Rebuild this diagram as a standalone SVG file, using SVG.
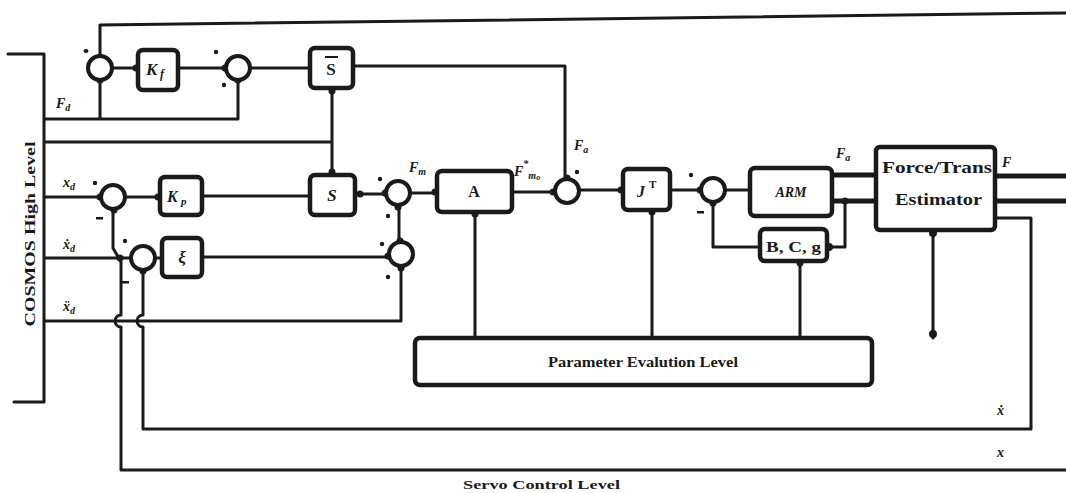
<svg xmlns="http://www.w3.org/2000/svg" width="1066" height="493" viewBox="0 0 1066 493">
<style>
.ln{fill:none;stroke:#1a1a1a;stroke-width:3;stroke-linejoin:round;stroke-linecap:round}
.thk{fill:none;stroke:#1a1a1a;stroke-width:5}
.box{fill:#fff;stroke:#1a1a1a;stroke-width:4.5}
.sum{fill:#fff;stroke:#1a1a1a;stroke-width:4}
.b{fill:#1a1a1a}
.lab{font-family:"Liberation Serif",serif;font-weight:bold;font-style:italic;fill:#1a1a1a}
.txt{font-family:"Liberation Serif",serif;font-weight:bold;fill:#1a1a1a}
</style>
<rect width="1066" height="493" fill="#fff"/>
<g id="connectors">
<path class="ln" d="M8,54 H44 V402 H14"/>
<path class="ln" d="M100,56 V25 L1066,13"/>
<path class="ln" d="M45,119 H238 V80 M100,119 V80"/>
<path class="ln" d="M112,68 H138 M178,68 H226 M250,68 H310"/>
<path class="ln" d="M353,66 H565 V179"/>
<path class="ln" d="M332,88 V175 M45,142 H332"/>
<path class="ln" d="M45,197 H101 M125,197 H160 M202,196 H310"/>
<path class="ln" d="M355,194 H386 M410,193 H437 M512,192 H555 M579,190 H623 M670,190 H701 M725,190 H750"/>
<path class="ln" d="M713,202 V247 H760 M827,247 H845 V201"/>
<path class="thk" d="M832,175 H876 M832,201 H876 M995,176 H1066 M995,201 H1066"/>
<path class="ln" d="M995,218 H1031 V429 H143 V327 A6,6 0 0 1 143,315 V270"/>
<path class="ln" d="M113,209 V248 L121,262 V315 A6,6 0 0 0 121,327 V470 H1066"/>
<path class="ln" d="M45,258 H131 M155,258 H162 M202,257 H389"/>
<path class="ln" d="M45,321 H401 V266 M399,205 V242"/>
<path class="ln" d="M475,212 V338 M652,210 V338 M800,261 V338 M933,230 V338"/>
</g>
<g id="blobs">
<circle class="b" cx="100" cy="57" r="3.5"/><circle class="b" cx="100" cy="80" r="3.5"/>
<circle class="b" cx="136" cy="68" r="3.5"/><circle class="b" cx="225" cy="68" r="3.5"/>
<circle class="b" cx="238" cy="80" r="3.5"/><circle class="b" cx="332" cy="91" r="3.5"/>
<circle class="b" cx="332" cy="172" r="3.5"/><circle class="b" cx="100" cy="197" r="3.5"/>
<circle class="b" cx="158" cy="197" r="3.5"/><circle class="b" cx="114" cy="210" r="3.5"/>
<circle class="b" cx="120" cy="258" r="3.5"/><circle class="b" cx="143" cy="271" r="3.5"/>
<circle class="b" cx="360" cy="194" r="3.5"/><circle class="b" cx="385" cy="193" r="3.5"/>
<circle class="b" cx="398" cy="207" r="3.5"/><circle class="b" cx="400" cy="241" r="3.5"/>
<circle class="b" cx="401" cy="268" r="3.5"/><circle class="b" cx="388" cy="256" r="3.5"/>
<circle class="b" cx="435" cy="192" r="3.5"/><circle class="b" cx="475" cy="214" r="3.5"/>
<circle class="b" cx="567" cy="178" r="3.5"/><circle class="b" cx="553" cy="192" r="3.5"/>
<circle class="b" cx="621" cy="190" r="3.5"/><circle class="b" cx="652" cy="212" r="3.5"/>
<circle class="b" cx="700" cy="190" r="3.5"/><circle class="b" cx="713" cy="203" r="3.5"/>
<circle class="b" cx="829" cy="247" r="4"/><circle class="b" cx="800" cy="263" r="3.5"/>
<circle class="b" cx="845" cy="201" r="3.5"/><circle class="b" cx="933" cy="233" r="4"/>
<circle class="b" cx="933" cy="334" r="4"/>
</g>
<g id="signs">
<ellipse class="b" cx="86" cy="51" rx="2.5" ry="2"/>
<circle class="b" cx="216" cy="52" r="2.2"/><circle class="b" cx="224" cy="85" r="2.2"/>
<circle class="b" cx="95" cy="183" r="2.2"/><rect class="b" x="96" y="217" width="7" height="2.5"/>
<circle class="b" cx="125" cy="241" r="2.2"/><rect class="b" x="122" y="281" width="7" height="2.5"/>
<circle class="b" cx="380" cy="179" r="2.2"/><circle class="b" cx="388" cy="216" r="2.2"/>
<circle class="b" cx="382" cy="244" r="2.2"/><circle class="b" cx="388" cy="277" r="2.2"/>
<circle class="b" cx="577" cy="172" r="2.2"/>
<circle class="b" cx="691" cy="175" r="2.2"/><rect class="b" x="697" y="211" width="7" height="2.5"/>
</g>
<g id="sum1"><circle class="sum" cx="100" cy="68" r="12"/></g>
<g id="kf"><rect class="box" x="138" y="50" width="40" height="40" rx="5"/><text class="lab" x="146" y="75" font-size="17">K</text><text class="lab" x="160" y="78" font-size="12">f</text></g>
<g id="sum2"><circle class="sum" cx="238" cy="68" r="12"/></g>
<g id="sbar"><rect class="box" x="310" y="48" width="43" height="40" rx="5"/><text class="txt" x="331" y="75" font-size="17" text-anchor="middle">S</text><path d="M325,57 H338" stroke="#1a1a1a" stroke-width="2"/></g>
<g id="sumx"><circle class="sum" cx="113" cy="197" r="12"/></g>
<g id="kp"><rect class="box" x="160" y="177" width="42" height="38" rx="5"/><text class="lab" x="167" y="202" font-size="16">K</text><text class="lab" x="181" y="205" font-size="11">p</text></g>
<g id="s"><rect class="box" x="310" y="175" width="45" height="40" rx="5"/><text class="lab" x="332" y="201" font-size="17" text-anchor="middle">S</text></g>
<g id="sumxi"><circle class="sum" cx="143" cy="258" r="12"/></g>
<g id="xi"><rect class="box" x="162" y="238" width="40" height="39" rx="5"/><text class="lab" x="182" y="263" font-size="17" text-anchor="middle">ξ</text></g>
<g id="sum3"><circle class="sum" cx="398" cy="193" r="12"/></g>
<g id="sum4"><circle class="sum" cx="401" cy="254" r="12"/></g>
<g id="a"><rect class="box" x="437" y="171" width="75" height="41" rx="5"/><text class="txt" x="474" y="197" font-size="16" text-anchor="middle">A</text></g>
<g id="sumfa"><circle class="sum" cx="567" cy="191" r="12"/></g>
<g id="jt"><rect class="box" x="623" y="169" width="47" height="41" rx="5"/><text class="lab" x="641" y="197" font-size="16" text-anchor="middle">J</text><text class="txt" x="649" y="188" font-size="11">T</text></g>
<g id="sum6"><circle class="sum" cx="713" cy="190" r="12"/></g>
<g id="arm"><rect class="box" x="750" y="168" width="82" height="48" rx="5"/><text class="lab" x="791" y="197" font-size="14" text-anchor="middle">ARM</text></g>
<g id="bcg"><rect class="box" x="760" y="229" width="67" height="32" rx="5" fill="#fff"/><text class="txt" x="766" y="252" font-size="15" textLength="55" lengthAdjust="spacingAndGlyphs">B, C, g</text></g>
<g id="ft"><rect class="box" x="876" y="147" width="119" height="83" rx="4"/><text class="txt" x="882" y="173" font-size="16" textLength="110" lengthAdjust="spacingAndGlyphs">Force/Trans</text><text class="txt" x="895" y="205" font-size="16" textLength="87" lengthAdjust="spacingAndGlyphs">Estimator</text></g>
<g id="pel"><rect class="box" x="415" y="338" width="457" height="47" rx="5"/><text class="txt" x="548" y="367" font-size="14" textLength="190" lengthAdjust="spacingAndGlyphs">Parameter Evalution Level</text></g>
<g id="labels">
<text class="txt" transform="translate(35,234) rotate(-90)" font-size="15" text-anchor="middle" textLength="185" lengthAdjust="spacingAndGlyphs">COSMOS High Level</text>
<text class="lab" x="56" y="108" font-size="14">F<tspan font-size="10" dy="3">d</tspan></text>
<text class="lab" x="63" y="187" font-size="14">x<tspan font-size="10" dy="3">d</tspan></text>
<text class="lab" x="63" y="249" font-size="14">ẋ<tspan font-size="10" dy="3">d</tspan></text>
<text class="lab" x="63" y="311" font-size="14">ẍ<tspan font-size="10" dy="3">d</tspan></text>
<text class="lab" x="409" y="172" font-size="14">F<tspan font-size="10" dy="3">m</tspan></text>
<text class="lab" x="514" y="176" font-size="14">F<tspan font-size="10" dy="-9">*</tspan><tspan font-size="10" dy="12">m</tspan><tspan font-size="8" dy="1">o</tspan></text>
<text class="lab" x="574" y="150" font-size="14">F<tspan font-size="10" dy="3">a</tspan></text>
<text class="lab" x="836" y="158" font-size="14">F<tspan font-size="10" dy="3">a</tspan></text>
<text class="lab" x="1002" y="167" font-size="14">F</text>
<text class="lab" x="997" y="415" font-size="14">ẋ</text>
<text class="lab" x="997" y="457" font-size="14">x</text>
<text class="txt" x="463" y="489" font-size="13" textLength="157" lengthAdjust="spacingAndGlyphs">Servo Control Level</text>
</g>
</svg>
